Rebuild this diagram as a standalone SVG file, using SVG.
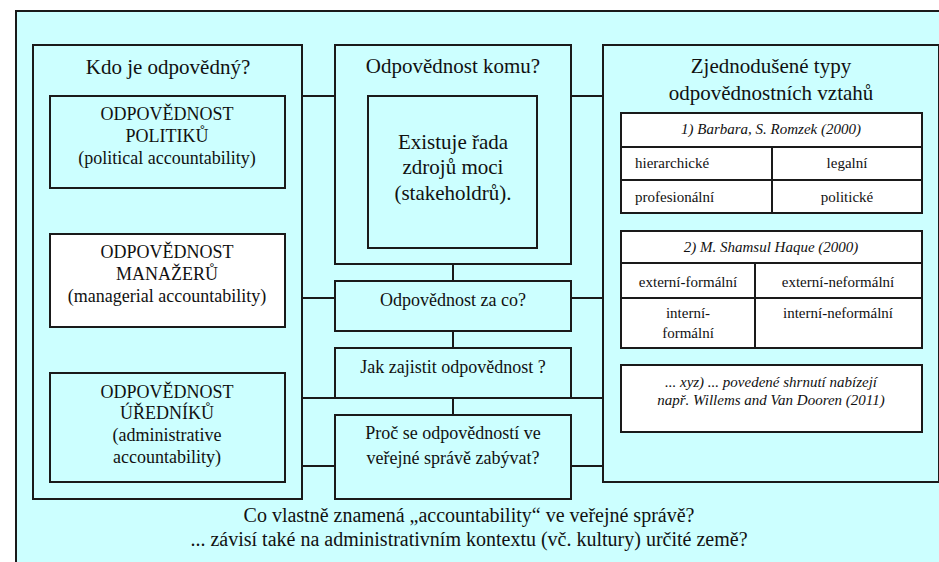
<svg xmlns="http://www.w3.org/2000/svg" width="939" height="562" viewBox="0 0 939 562">
<rect width="939" height="562" fill="#ffffff"/>
<rect id="frame" x="16" y="11" width="940" height="570" fill="#ccffff" stroke="#1a1a1a" stroke-width="2"/>
<g id="connectors" fill="none" stroke="#1a1a1a" stroke-width="2">
<path d="M302 96H335M571 96H603M167 188V234M167 327V373M453 264V281M453 331V348M453 398V415M302 298H335M571 298H603M302 398H335M571 398H603M302 466H335M571 466H603"/>
</g>
<g stroke="#1a1a1a" stroke-width="2" fill="#ccffff">
<rect id="left-panel" x="33" y="45" width="269" height="454"/>
<rect id="politiku" x="50" y="96" width="235" height="92"/>
<rect id="manazeru" x="50" y="234" width="235" height="93" fill="#ffffff"/>
<rect id="uredniku" x="50" y="373" width="235" height="109"/>
<rect id="komu" x="335" y="45" width="236" height="219"/>
<rect id="zdroje" x="368" y="96" width="169" height="152"/>
<rect id="zaco" x="335" y="281" width="236" height="50"/>
<rect id="jak" x="335" y="348" width="236" height="50"/>
<rect id="proc" x="335" y="415" width="236" height="84"/>
<rect id="right-panel" x="603" y="45" width="336" height="437"/>
<rect id="romzek" x="621" y="113" width="301" height="100" fill="#ffffff"/>
<rect id="haque" x="621" y="231" width="301" height="117" fill="#ffffff"/>
<rect id="xyz" x="621" y="365" width="301" height="67" fill="#ffffff"/>
<path fill="none" d="M621 147H922M621 180H922M772 147V213M621 263H922M621 298H922M755 263V348"/>
</g>
<g fill="#111" text-anchor="middle">
<text font-family="Liberation Serif" font-size="21" x="168" y="74">Kdo je odpovědný?</text>
<text font-family="Liberation Serif" font-size="18" x="167" y="120">ODPOVĚDNOST</text>
<text font-family="Liberation Serif" font-size="18" x="167" y="142">POLITIKŮ</text>
<text font-family="Liberation Serif" font-size="18" x="167" y="164">(political accountability)</text>
<text font-family="Liberation Serif" font-size="18" x="167" y="258">ODPOVĚDNOST</text>
<text font-family="Liberation Serif" font-size="18" x="167" y="280">MANAŽERŮ</text>
<text font-family="Liberation Serif" font-size="18" x="167" y="302">(managerial accountability)</text>
<text font-family="Liberation Serif" font-size="18" x="167" y="398">ODPOVĚDNOST</text>
<text font-family="Liberation Serif" font-size="18" x="167" y="419">ÚŘEDNÍKŮ</text>
<text font-family="Liberation Serif" font-size="18" x="167" y="441">(administrative</text>
<text font-family="Liberation Serif" font-size="18" x="167" y="463">accountability)</text>
<text font-family="Liberation Serif" font-size="21" x="453" y="73">Odpovědnost komu?</text>
<text font-family="Liberation Serif" font-size="21" x="453" y="149">Existuje řada</text>
<text font-family="Liberation Serif" font-size="21" x="453" y="174">zdrojů moci</text>
<text font-family="Liberation Serif" font-size="21" x="453" y="200">(stakeholdrů).</text>
<text font-family="Liberation Serif" font-size="18" x="453" y="306">Odpovědnost za co?</text>
<text font-family="Liberation Serif" font-size="18" x="453" y="373">Jak zajistit odpovědnost ?</text>
<text font-family="Liberation Serif" font-size="18" x="453" y="439">Proč se odpovědností ve</text>
<text font-family="Liberation Serif" font-size="18" x="453" y="464">veřejné správě zabývat?</text>
<text font-family="Liberation Serif" font-size="21" x="771" y="73">Zjednodušené typy</text>
<text font-family="Liberation Serif" font-size="21" x="771" y="100">odpovědnostních vztahů</text>
<text font-family="Liberation Serif" font-size="15" font-style="italic" x="771" y="134">1) Barbara, S. Romzek (2000)</text>
<text font-family="Liberation Serif" font-size="15" text-anchor="start" x="635" y="168">hierarchické</text>
<text font-family="Liberation Serif" font-size="15" x="847" y="168">legalní</text>
<text font-family="Liberation Serif" font-size="15" text-anchor="start" x="635" y="202">profesionální</text>
<text font-family="Liberation Serif" font-size="15" x="847" y="202">politické</text>
<text font-family="Liberation Serif" font-size="15" font-style="italic" x="771" y="252">2) M. Shamsul Haque (2000)</text>
<text font-family="Liberation Serif" font-size="15" x="688" y="287">externí-formální</text>
<text font-family="Liberation Serif" font-size="15" x="838" y="287">externí-neformální</text>
<text font-family="Liberation Serif" font-size="15" x="688" y="318">interní-</text>
<text font-family="Liberation Serif" font-size="15" x="688" y="338">formální</text>
<text font-family="Liberation Serif" font-size="15" x="838" y="318">interní-neformální</text>
<text font-family="Liberation Serif" font-size="15" font-style="italic" x="771" y="387">... xyz) ... povedené shrnutí nabízejí</text>
<text font-family="Liberation Serif" font-size="15" font-style="italic" x="771" y="405">např. Willems and Van Dooren (2011)</text>
<text font-family="Liberation Serif" font-size="20" x="469" y="522">Co vlastně znamená „accountability“ ve veřejné správě?</text>
<text font-family="Liberation Serif" font-size="20" x="469" y="546">... závisí také na administrativním kontextu (vč. kultury) určité země?</text>
</g>
</svg>
